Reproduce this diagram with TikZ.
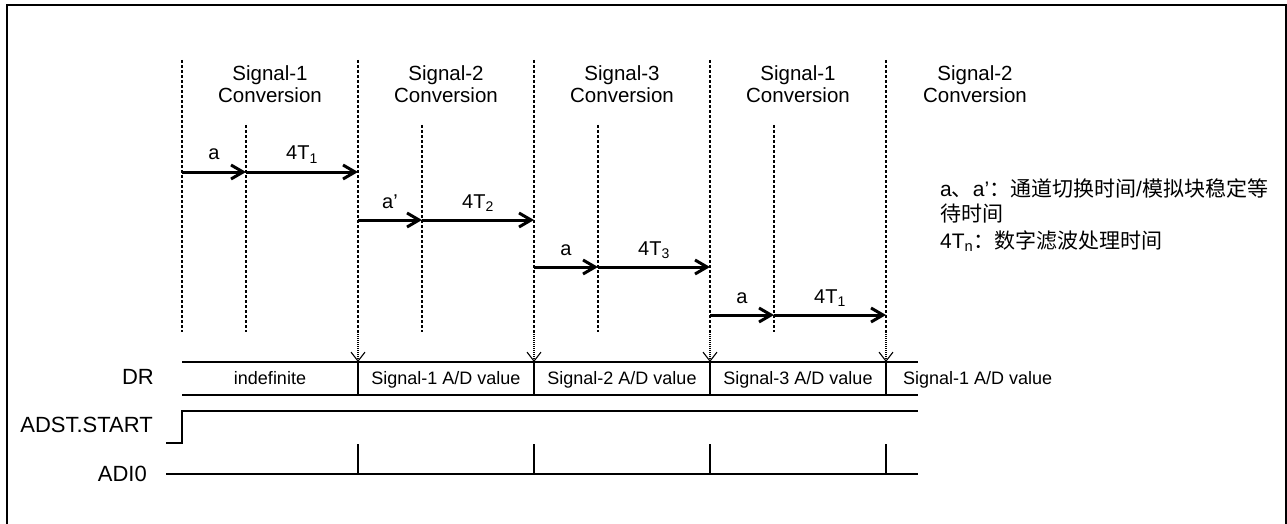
\documentclass[tikz,border=0pt]{standalone}
\usepackage{fontspec}
\setmainfont{Liberation Sans}
\newfontfamily\cjk{Noto Sans CJK SC}
\usetikzlibrary{arrows.meta}
\begin{document}
\begin{tikzpicture}[x=1pt,y=-1pt,
  frame/.style={line width=2pt},
  dsh/.style={line width=1.1pt,dash pattern=on 3pt off 2pt},
  dot/.style={line width=1.1pt,dash pattern=on 1pt off 1pt},
  tick/.style={line width=1.1pt,-{Straight Barb[length=9pt,width=14pt]}},
  seg/.style={line width=3pt,-{Straight Barb[length=12pt,width=14pt]}},
  sig/.style={line width=2pt},
  hdr/.style={font=\fontsize{20.5}{23}\selectfont,anchor=base,inner sep=0pt},
  lab/.style={font=\fontsize{20}{22}\selectfont,anchor=base,inner sep=0pt},
  val/.style={font=\fontsize{18}{20}\selectfont,anchor=base,inner sep=0pt},
  side/.style={font=\fontsize{22}{24}\selectfont,anchor=base east,inner sep=0pt},
  leg/.style={font=\fontsize{21}{24}\selectfont,anchor=base west,inner sep=0pt}]
\useasboundingbox (0,0) rectangle (1287,524);
% frame
\draw[frame] (7,524) -- (7,5) -- (1286,5) -- (1286,524);
% coordinates
\foreach \x [count=\i from 0] in {182,358,534,710,886} {
  \coordinate (M\i) at (\x,60);
  \coordinate (E\i) at (\x,332);
  \coordinate (D\i) at (\x,362);
}
\foreach \x [count=\i from 0] in {246,422,598,774} {
  \coordinate (N\i) at (\x,125);
  \coordinate (F\i) at (\x,332);
}
% dashed lines
\foreach \i in {0,...,4} \draw[dsh] (M\i) -- (E\i);
\foreach \i in {0,...,3} \draw[dsh] (N\i) -- (F\i);
\foreach \i in {1,...,4} \draw[dot,tick] (E\i) -- (D\i);
% headers
\foreach \x/\s in {270/1,446/2,622/3,798/1,975/2} {
  \node[hdr] (h\x) at (\x,81) {Signal-\s};
  \node[hdr] (c\x) at (\x,103) {Conversion};
}
% segment arrows
\foreach \i/\y/\la/\lb [evaluate=\i as \j using int(\i+1)] in
  {0/172/a/4T\textsubscript{1},1/220/a’/4T\textsubscript{2},2/267/a/4T\textsubscript{3},3/315/a/4T\textsubscript{1}} {
  \coordinate (As\i) at (M\i |- 0,\y);
  \coordinate (Am\i) at (N\i |- 0,\y);
  \coordinate (Ae\i) at (M\j |- 0,\y);
  \draw[seg] (As\i) -- (Am\i);
  \draw[seg] (Am\i) -- (Ae\i);
  \path (As\i) -- (Am\i) node[lab,pos=0.5,yshift=12pt] (la\i) {\la};
  \path (Am\i) -- (Ae\i) node[lab,pos=0.5,yshift=12pt] (lb\i) {\lb};
}
% DR band
\draw[sig] (182,362) -- (918,362);
\draw[sig] (182,395) -- (918,395);
\foreach \i in {1,...,4} \draw[sig] (D\i) -- (D\i |- 0,395);
\node[val] (v0) at (270,384) {indefinite};
\node[val] (v1) at (446,384) {Signal-1 A/D value};
\node[val] (v2) at (622,384) {Signal-2 A/D value};
\node[val] (v3) at (798,384) {Signal-3 A/D value};
\node[val,anchor=base west] (v4) at (903,384) {Signal-1 A/D value};
% ADST.START
\coordinate (s0) at (166,443);
\coordinate (s1) at (182,443);
\coordinate (s2) at (182,411);
\coordinate (s3) at (918,411);
\draw[sig] (s0) -- (s1) -- (s2) -- (s3);
% ADI0
\coordinate (a0) at (166,474);
\coordinate (a1) at (918,474);
\draw[sig] (a0) -- (a1);
\foreach \i in {1,...,4} \draw[sig] (D\i |- 0,474) -- (D\i |- 0,444);
% side labels
\node[side] (lDR) at (154,384) {DR};
\node[side] (lAD) at (153,432) {ADST.START};
\node[side] (lAI) at (147,481) {ADI0};
% legend
\node[leg] (g1) at (940,196) {a{\cjk 、}a'{\cjk ：通道切换时间}/{\cjk 模拟块稳定等}};
\node[leg] (g2) at (940,221) {\cjk 待时间};
\node[leg] (g3) at (940,248) {4T\textsubscript{n}{\cjk ：数字滤波处理时间}};
\end{tikzpicture}
\end{document}
